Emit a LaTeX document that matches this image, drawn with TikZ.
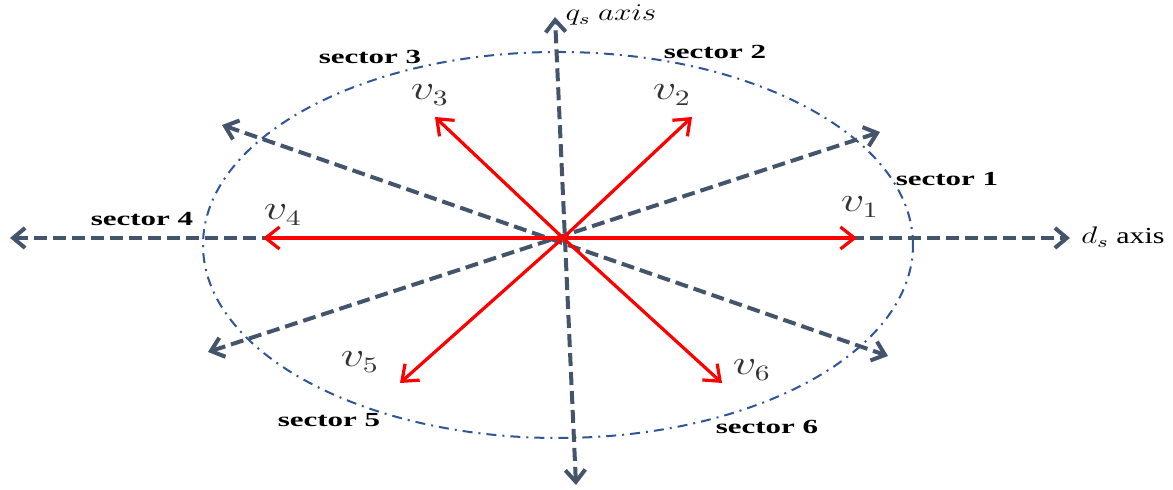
\documentclass[tikz,border=0pt]{standalone}
\usepackage{fontspec}
\setmainfont{Liberation Serif}
\usepackage{tikz}
\usetikzlibrary{arrows.meta, positioning}

\definecolor{axisgray}{HTML}{44546A}
\definecolor{circblue}{HTML}{2F5597}

\begin{document}
\begin{tikzpicture}[
    x=0.5pt, y=0.5pt,
    axisline/.style={draw=axisgray, line width=2pt, dash pattern=on 6.5pt off 3pt,
                     {Straight Barb[length=6pt, width=10pt, line width=2pt]}-{Straight Barb[length=6pt, width=10pt, line width=2pt]}},
    vecline/.style={draw=red, line width=1.6pt,
                    -{Straight Barb[length=7pt, width=11pt, line width=1.6pt]}},
    circline/.style={draw=circblue, line width=1pt,
                     dash pattern=on 5pt off 3pt on 1pt off 3pt},
    seclbl/.style={font=\bfseries\fontsize{10}{12}\selectfont, inner sep=1pt,
                   xscale=1.55, transform shape},
    veclbl/.style={font=\fontsize{16}{18}\selectfont, text=black!80, inner sep=0pt,
                   xscale=1.35, transform shape},
    axlbl/.style={font=\fontsize{11.5}{13}\selectfont, inner sep=0pt,
                  xscale=1.3, transform shape}
]
\useasboundingbox (0,0) rectangle (1173,490);

% centre and end points
\coordinate (O)  at (563,252);
\coordinate (dl) at (10,252);
\coordinate (dr) at (1070,252);
\coordinate (qt) at (555,473);
\coordinate (qb) at (576,5);
\coordinate (a1) at (880,358);
\coordinate (a2) at (222,365);
\coordinate (a3) at (208,138);
\coordinate (a4) at (888,134);
\coordinate (t1) at (857,252);
\coordinate (t2) at (692,373);
\coordinate (t3) at (435,373);
\coordinate (t4) at (263,252);
\coordinate (t5) at (400,107);
\coordinate (t6) at (722,107);

% sector circle
\draw[circline] (558,245) ellipse [x radius=355, y radius=193];

% axes and sector borders
\draw[axisline] (dl) -- (dr);
\draw[axisline] (qb) -- (qt);
\draw[axisline] (a3) -- (a1);
\draw[axisline] (a2) -- (a4);

% voltage vectors
\draw[vecline] (O) -- (t1);
\draw[vecline] (O) -- (t2);
\draw[vecline] (O) -- (t3);
\draw[vecline] (O) -- (t4);
\draw[vecline] (O) -- (t5);
\draw[vecline] (O) -- (t6);

\node[veclbl] (v1) at (860,283) {$v_1$};
\node[veclbl] (v2) at (672,395) {$v_2$};
\node[veclbl] (v3) at (430,395) {$v_3$};
\node[veclbl] (v4) at (283,275) {$v_4$};
\node[veclbl] (v5) at (360,128) {$v_5$};
\node[veclbl] (v6) at (752,120) {$v_6$};

\node[seclbl] (s1) at (947,311) {sector 1};
\node[seclbl] (s2) at (715,438) {sector 2};
\node[seclbl] (s3) at (370,433) {sector 3};
\node[seclbl] (s4) at (142,271) {sector 4};
\node[seclbl] (s5) at (329,70)  {sector 5};
\node[seclbl] (s6) at (767,63)  {sector 6};

\node[axlbl] (qlbl) at (611,475) {$q_s\ axis$};
\node[axlbl] (dlbl) at (1123,253) {$d_s$ axis};
\end{tikzpicture}
\end{document}
